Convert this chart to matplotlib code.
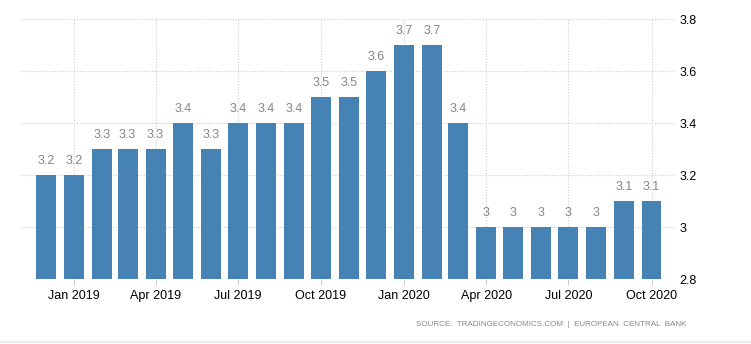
import matplotlib
matplotlib.use("Agg")
import matplotlib.pyplot as plt
import matplotlib.dates as mdates
import numpy as np
import datetime as dt

months = ["2018-12", "2019-01", "2019-02", "2019-03", "2019-04", "2019-05", "2019-06",
          "2019-07", "2019-08", "2019-09", "2019-10", "2019-11", "2019-12", "2020-01",
          "2020-02", "2020-03", "2020-04", "2020-05", "2020-06", "2020-07", "2020-08",
          "2020-09", "2020-10"]
values = [3.2, 3.2, 3.3, 3.3, 3.3, 3.4, 3.3, 3.4, 3.4, 3.4, 3.5, 3.5, 3.6, 3.7, 3.7,
          3.4, 3.0, 3.0, 3.0, 3.0, 3.0, 3.1, 3.1]
value_labels = ["3.2", "3.2", "3.3", "3.3", "3.3", "3.4", "3.3", "3.4", "3.4", "3.4", "3.5",
                "3.5", "3.6", "3.7", "3.7", "3.4", "3", "3", "3", "3", "3", "3.1", "3.1"]
tick_months = ["2019-01", "2019-04", "2019-07", "2019-10", "2020-01", "2020-04", "2020-07", "2020-10"]
tick_labels = ["Jan 2019", "Apr 2019", "Jul 2019", "Oct 2019", "Jan 2020", "Apr 2020", "Jul 2020", "Oct 2020"]
y_ticks = [2.8, 3.0, 3.2, 3.4, 3.6, 3.8]
y_tick_labels = ["2.8", "3", "3.2", "3.4", "3.6", "3.8"]
source = "SOURCE:  TRADINGECONOMICS.COM  |  EUROPEAN  CENTRAL  BANK"

plt.rcParams['font.family'] = ['Liberation Sans', 'DejaVu Sans']

def to_date(s):
    y, m = s.split("-")
    return dt.datetime(int(y), int(m), 1)

x = mdates.date2num([to_date(m) for m in months])
xt = mdates.date2num([to_date(m) for m in tick_months])

fig = plt.figure(figsize=(7.51, 3.44), dpi=100)
ax = fig.add_axes([21/751, 1-279/344, (675-21)/751, (279-19)/344])

bars = ax.bar(x, np.array(values) - 2.8, bottom=2.8, width=22, color="#4682b4", zorder=2)
for xi, v, lab in zip(x, values, value_labels):
    ax.annotate(lab, (xi, v), xytext=(0, 5.5), textcoords="offset points",
                ha="center", va="bottom", fontsize=9, color="#858585")

ax.set_ylim(2.8, 3.8)
ax.set_xlim(mdates.date2num(dt.datetime(2018, 11, 3)), mdates.date2num(dt.datetime(2020, 10, 27)))
ax.set_yticks(y_ticks)
ax.set_yticklabels(y_tick_labels)
ax.set_xticks(xt)
ax.set_xticklabels(tick_labels)
ax.yaxis.tick_right()
ax.tick_params(axis="y", length=0, pad=3, labelsize=9, labelcolor="black")
ax.tick_params(axis="x", length=4, color="#cccccc", pad=4, labelsize=9, labelcolor="black")
ax.grid(True, color="#cccccc", linestyle=(0, (1, 1.5)), linewidth=0.8, zorder=0)
for s in ax.spines.values():
    s.set_visible(False)

fig.text(686/751, 1-324/344, source, ha="right", va="center", fontsize=5.8, color="#888888")
fig.add_artist(plt.Line2D([0, 1], [1-341.5/344]*2, transform=fig.transFigure,
                          color="#eeeeee", linewidth=1.5))
fig.savefig("out.png", dpi=100)
